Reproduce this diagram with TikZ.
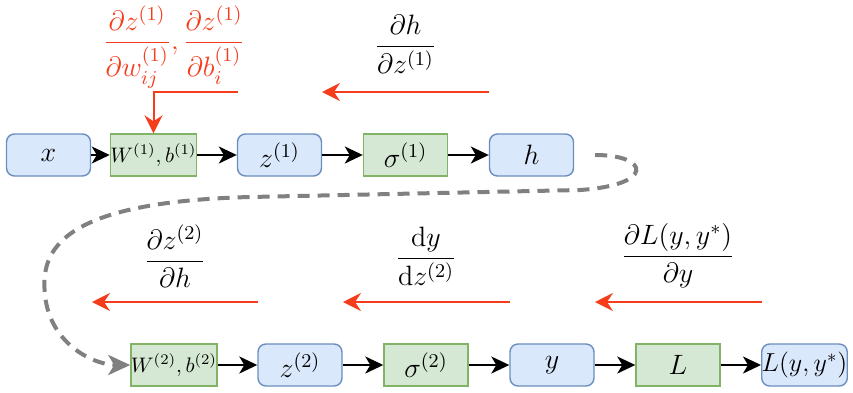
\RequirePackage{fix-cm}
\documentclass[tikz,border=0pt]{standalone}
\usepackage{amsmath}
\usepackage{xcolor}
\usepackage{tikz}
\usetikzlibrary{arrows.meta}

\definecolor{boxblue}{HTML}{DAE8FC}
\definecolor{lineblue}{HTML}{6C8EBF}
\definecolor{boxgreen}{HTML}{D5E8D4}
\definecolor{linegreen}{HTML}{82B366}
\definecolor{gradred}{HTML}{F53D1C}
\definecolor{backgray}{HTML}{808080}

\begin{document}
\begin{tikzpicture}[x=0.5pt,y=-0.5pt,
  var/.style={draw=lineblue,fill=boxblue,line width=0.7pt,rounded corners=4pt,minimum width=42pt,minimum height=21pt,inner sep=0pt,font=\fontsize{14}{16}\selectfont},
  op/.style={draw=linegreen,fill=boxgreen,line width=0.7pt,minimum width=42pt,minimum height=21pt,inner sep=0pt,font=\fontsize{14}{16}\selectfont},
  par/.style={op,font=\fontsize{10.5}{13}\selectfont},
  fwd/.style={line width=1pt,-{Stealth[length=9pt,width=8.5pt,inset=2.5pt]}},
  bwd/.style={gradred,line width=1pt,-{Stealth[length=9pt,width=9pt,inset=3pt]}},
  jump/.style={backgray,line width=2pt,dash pattern=on 6pt off 4pt,-{Stealth[length=11pt,width=10pt,inset=3pt]}},
  lbl/.style={font=\fontsize{14}{16}\selectfont}]
\useasboundingbox (0,0) rectangle (853,392);

% first layer
\node[var] (x) at (48.5,155) {$x$};
\node[par] (W1) at (153.5,155) {$W^{(1)},b^{(1)}$};
\node[var] (z1) at (279.5,155) {$z^{(1)}$};
\node[op] (s1) at (405.5,155) {$\sigma^{(1)}$};
\node[var] (h) at (531.5,155) {$h$};

% second layer
\node[par] (W2) at (174,365) {$W^{(2)},b^{(2)}$};
\node[var] (z2) at (300,365) {$z^{(2)}$};
\node[op] (s2) at (426,365) {$\sigma^{(2)}$};
\node[var] (y) at (552,365) {$y$};
\node[op] (L) at (678,365) {$L$};
\node[var,font=\fontsize{13}{15}\selectfont] (Lyy) at (804.5,365) {$L(y,y^*)$};

\draw[fwd] (x) -- (W1);
\draw[fwd] (W1) -- (z1);
\draw[fwd] (z1) -- (s1);
\draw[fwd] (s1) -- (h);
\draw[fwd] (W2) -- (z2);
\draw[fwd] (z2) -- (s2);
\draw[fwd] (s2) -- (y);
\draw[fwd] (y) -- (L);
\draw[fwd] (L) -- (Lyy);

% h feeds the second layer
\draw[jump] ([xshift=10.5pt]h.east) .. controls (650,155) and (655,185) .. (580,190)
  -- (250,197) .. controls (60,202) and (40,250) .. (45,295)
  .. controls (50,345) and (95,365) .. (W2.west);

% gradients flowing back
\coordinate (gW) at (238,92);
\coordinate (gh0) at (489,92);
\coordinate (gh1) at (322,92);
\coordinate (gz0) at (258,302);
\coordinate (gz1) at (92,302);
\coordinate (gy0) at (510,302);
\coordinate (gy1) at (343,302);
\coordinate (gL0) at (762,302);
\coordinate (gL1) at (595,302);
\draw[bwd] (gW) -| (W1.north);
\draw[bwd] (gh0) -- (gh1);
\draw[bwd] (gz0) -- (gz1);
\draw[bwd] (gy0) -- (gy1);
\draw[bwd] (gL0) -- (gL1);

\node[lbl,text=gradred] (tW) at (174,47) {$\dfrac{\partial z^{(1)}}{\partial w^{(1)}_{ij}}, \dfrac{\partial z^{(1)}}{\partial b^{(1)}_{i}}$};
\node[lbl] (th) at (405.5,44) {$\dfrac{\partial h}{\partial z^{(1)}}$};
\node[lbl] (tz) at (175,256) {$\dfrac{\partial z^{(2)}}{\partial h}$};
\node[lbl] (ty) at (426,256) {$\dfrac{\mathrm{d}y}{\mathrm{d}z^{(2)}}$};
\node[lbl] (tL) at (678,256) {$\dfrac{\partial L(y,y^*)}{\partial y}$};
\end{tikzpicture}
\end{document}
